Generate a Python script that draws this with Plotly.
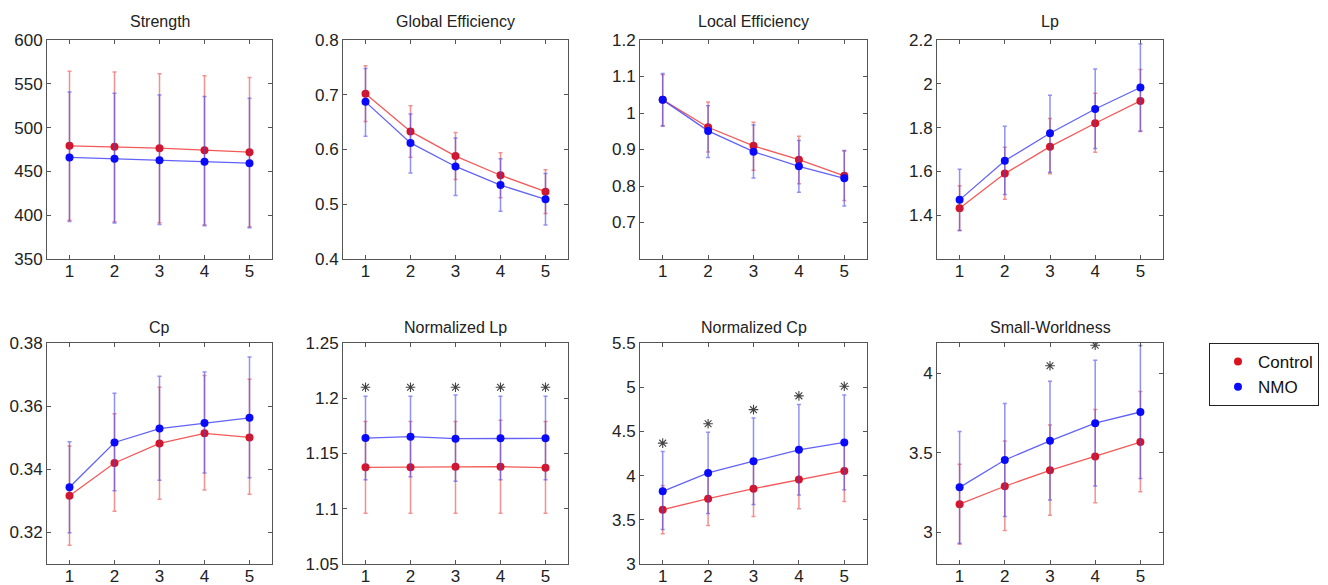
import plotly.graph_objects as go

# ---------------- data ----------------
x_vals = [1, 2, 3, 4, 5]
panel_titles = ["Strength", "Global Efficiency", "Local Efficiency", "Lp",
                "Cp", "Normalized Lp", "Normalized Cp", "Small-Worldness"]
group_names = ["Control", "NMO"]

strength_ctrl_mean = [479.2, 478.0, 476.5, 474.2, 472.0]
strength_ctrl_top = [564.3, 563.5, 561.6, 559.3, 557.1]
strength_ctrl_bot = [394.1, 392.5, 391.4, 389.1, 386.9]
strength_nmo_mean = [465.9, 464.4, 462.8, 460.9, 459.4]
strength_nmo_top = [540.7, 539.2, 537.3, 535.4, 533.5]
strength_nmo_bot = [392.9, 391.0, 389.5, 387.9, 385.8]

ge_ctrl_mean = [0.702, 0.633, 0.588, 0.553, 0.523]
ge_ctrl_top = [0.753, 0.680, 0.631, 0.594, 0.563]
ge_ctrl_bot = [0.651, 0.586, 0.545, 0.512, 0.483]
ge_nmo_mean = [0.687, 0.612, 0.569, 0.535, 0.509]
ge_nmo_top = [0.748, 0.665, 0.621, 0.583, 0.556]
ge_nmo_bot = [0.624, 0.557, 0.516, 0.487, 0.462]

le_ctrl_mean = [1.036, 0.961, 0.910, 0.872, 0.828]
le_ctrl_top = [1.105, 1.030, 0.975, 0.936, 0.896]
le_ctrl_bot = [0.966, 0.893, 0.843, 0.806, 0.760]
le_nmo_mean = [1.036, 0.951, 0.894, 0.854, 0.821]
le_nmo_top = [1.108, 1.020, 0.967, 0.925, 0.897]
le_nmo_bot = [0.964, 0.878, 0.822, 0.783, 0.745]

lp_ctrl_mean = [1.432, 1.590, 1.713, 1.820, 1.922]
lp_ctrl_top = [1.535, 1.710, 1.841, 1.957, 2.065]
lp_ctrl_bot = [1.330, 1.473, 1.589, 1.687, 1.782]
lp_nmo_mean = [1.470, 1.649, 1.774, 1.885, 1.983]
lp_nmo_top = [1.610, 1.806, 1.948, 2.068, 2.182]
lp_nmo_bot = [1.330, 1.494, 1.596, 1.704, 1.785]

cp_ctrl_mean = [0.3316, 0.3420, 0.3482, 0.3514, 0.3501]
cp_ctrl_top = [0.3474, 0.3576, 0.3660, 0.3697, 0.3685]
cp_ctrl_bot = [0.3159, 0.3267, 0.3305, 0.3334, 0.3321]
cp_nmo_mean = [0.3343, 0.3485, 0.3529, 0.3547, 0.3563]
cp_nmo_top = [0.3487, 0.3641, 0.3695, 0.3708, 0.3756]
cp_nmo_bot = [0.3199, 0.3332, 0.3365, 0.3388, 0.3373]

nlp_ctrl_mean = [1.1375, 1.1375, 1.1381, 1.1381, 1.1372]
nlp_ctrl_top = [1.179, 1.179, 1.179, 1.180, 1.179]
nlp_ctrl_bot = [1.096, 1.096, 1.096, 1.096, 1.096]
nlp_nmo_mean = [1.1640, 1.1652, 1.1634, 1.1637, 1.1637]
nlp_nmo_top = [1.2017, 1.2017, 1.2030, 1.2017, 1.2017]
nlp_nmo_bot = [1.1263, 1.1290, 1.1250, 1.1263, 1.1263]
nlp_star_x = [1, 2, 3, 4, 5]
nlp_star_y = [1.21, 1.21, 1.21, 1.21, 1.21]

ncp_ctrl_mean = [3.614, 3.739, 3.852, 3.955, 4.053]
ncp_ctrl_top = [3.887, 4.042, 4.166, 4.285, 4.398]
ncp_ctrl_bot = [3.341, 3.436, 3.538, 3.625, 3.708]
ncp_nmo_mean = [3.822, 4.030, 4.163, 4.292, 4.375]
ncp_nmo_top = [4.273, 4.489, 4.652, 4.803, 4.913]
ncp_nmo_bot = [3.390, 3.572, 3.674, 3.780, 3.841]
ncp_star_x = [1, 2, 3, 4, 5]
ncp_star_y = [4.367, 4.587, 4.746, 4.902, 5.011]

sw_ctrl_mean = [3.176, 3.289, 3.389, 3.476, 3.567]
sw_ctrl_top = [3.427, 3.573, 3.675, 3.771, 3.885]
sw_ctrl_bot = [2.925, 3.011, 3.106, 3.185, 3.255]
sw_nmo_mean = [3.282, 3.454, 3.575, 3.686, 3.756]
sw_nmo_top = [3.634, 3.810, 3.949, 4.081, 4.174]
sw_nmo_bot = [2.930, 3.098, 3.202, 3.291, 3.338]
sw_star_x = [3, 4]
sw_star_y = [4.047, 4.176]

y_ranges = [[350, 600], [0.4, 0.8], [0.6, 1.2], [1.2, 2.2],
             [0.31, 0.38], [1.05, 1.25], [3, 5.5], [2.8, 4.19]]
y_ticks = [[350, 400, 450, 500, 550, 600],
           [0.4, 0.5, 0.6, 0.7, 0.8],
           [0.7, 0.8, 0.9, 1, 1.1, 1.2],
           [1.4, 1.6, 1.8, 2, 2.2],
           [0.32, 0.34, 0.36, 0.38],
           [1.05, 1.1, 1.15, 1.2, 1.25],
           [3, 3.5, 4, 4.5, 5, 5.5],
           [3, 3.5, 4]]

panels = [
    (strength_ctrl_mean, strength_ctrl_top, strength_ctrl_bot,
     strength_nmo_mean, strength_nmo_top, strength_nmo_bot, [], []),
    (ge_ctrl_mean, ge_ctrl_top, ge_ctrl_bot, ge_nmo_mean, ge_nmo_top, ge_nmo_bot, [], []),
    (le_ctrl_mean, le_ctrl_top, le_ctrl_bot, le_nmo_mean, le_nmo_top, le_nmo_bot, [], []),
    (lp_ctrl_mean, lp_ctrl_top, lp_ctrl_bot, lp_nmo_mean, lp_nmo_top, lp_nmo_bot, [], []),
    (cp_ctrl_mean, cp_ctrl_top, cp_ctrl_bot, cp_nmo_mean, cp_nmo_top, cp_nmo_bot, [], []),
    (nlp_ctrl_mean, nlp_ctrl_top, nlp_ctrl_bot, nlp_nmo_mean, nlp_nmo_top, nlp_nmo_bot,
     nlp_star_x, nlp_star_y),
    (ncp_ctrl_mean, ncp_ctrl_top, ncp_ctrl_bot, ncp_nmo_mean, ncp_nmo_top, ncp_nmo_bot,
     ncp_star_x, ncp_star_y),
    (sw_ctrl_mean, sw_ctrl_top, sw_ctrl_bot, sw_nmo_mean, sw_nmo_top, sw_nmo_bot,
     sw_star_x, sw_star_y),
]

# ---------------- style ----------------
W, H = 1328, 585
FONT = "Liberation Sans, Arial, Helvetica, sans-serif"
col_px = [(47, 272), (343, 568), (640, 867), (937, 1163)]
row_px = [(40, 259), (343, 564)]
title_y_px = [22, 327]

line_cols = ["rgba(240,60,60,0.85)", "rgba(70,70,245,0.85)"]
marker_cols = ["rgb(220,18,30)", "rgb(10,10,250)"]
err_cols = ["rgba(235,70,70,0.6)", "rgba(70,70,240,0.6)"]


def fmt(v):
    return ("%g" % v)


fig = go.Figure()
layout = dict(
    width=W, height=H,
    margin=dict(l=0, r=0, t=0, b=0, autoexpand=False),
    paper_bgcolor="white", plot_bgcolor="white",
    font=dict(family=FONT, size=17, color="#222"),
    showlegend=True,
    annotations=[],
)

for i, p in enumerate(panels):
    r, c = divmod(i, 4)
    k = i + 1
    xa = "x" if k == 1 else "x%d" % k
    ya = "y" if k == 1 else "y%d" % k
    cm, ct, cb, nm, nt, nb, sx, sy = p
    for g, (m, t, b) in enumerate([(cm, ct, cb), (nm, nt, nb)]):
        fig.add_trace(go.Scatter(
            x=x_vals, y=m, xaxis=xa, yaxis=ya, mode="lines+markers",
            line=dict(color=line_cols[g], width=1.3),
            marker=dict(color=marker_cols[g], size=8),
            error_y=dict(type="data", symmetric=False,
                         array=[tt - mm for tt, mm in zip(t, m)],
                         arrayminus=[mm - bb for bb, mm in zip(b, m)],
                         color=err_cols[g], thickness=1.5, width=2),
            showlegend=False, hoverinfo="skip"))
    if sx:
        fig.add_trace(go.Scatter(
            x=sx, y=sy, xaxis=xa, yaxis=ya, mode="markers",
            marker=dict(symbol="asterisk-open", size=8,
                        line=dict(color="#444", width=1.1), color="#444"),
            showlegend=False, hoverinfo="skip"))

    x0, x1 = col_px[c]
    y0, y1 = row_px[r]
    axcommon = dict(showline=True, linecolor="#555", linewidth=1, mirror="ticks",
                    ticks="inside", ticklen=4, tickcolor="#555", showgrid=False,
                    zeroline=False, automargin=False,
                    tickfont=dict(size=17, color="#222"))
    layout["xaxis" if k == 1 else "xaxis%d" % k] = dict(
        domain=[x0 / W, x1 / W], anchor=ya, range=[0.5, 5.5],
        tickvals=x_vals, ticktext=[str(v) for v in x_vals],
        ticklabelstandoff=-3, **axcommon)
    layout["yaxis" if k == 1 else "yaxis%d" % k] = dict(
        domain=[1 - y1 / H, 1 - y0 / H], anchor=xa, range=y_ranges[i],
        tickvals=y_ticks[i], ticktext=[fmt(v) for v in y_ticks[i]], **axcommon)
    layout["annotations"].append(dict(
        text=panel_titles[i], xref="paper", yref="paper",
        x=(x0 + x1) / 2 / W, y=1 - title_y_px[r] / H,
        xanchor="center", yanchor="middle", showarrow=False,
        font=dict(size=16, color="#222", family=FONT)))

# legend-only traces
for g in range(2):
    fig.add_trace(go.Scatter(
        x=[None], y=[None], mode="markers", name=group_names[g],
        marker=dict(color=marker_cols[g], size=8), showlegend=True))

layout["legend"] = dict(
    x=1209 / W, y=1 - 343 / H, xanchor="left", yanchor="top",
    bordercolor="#222", borderwidth=1, bgcolor="white",
    font=dict(size=17, color="#111", family=FONT), indentation=8,
    tracegroupgap=0)

fig.update_layout(**layout)
fig.write_html("out.html",
               config={"displayModeBar": False},
               post_script="document.body.style.margin='0px';"
                           "document.body.style.overflow='hidden';")
